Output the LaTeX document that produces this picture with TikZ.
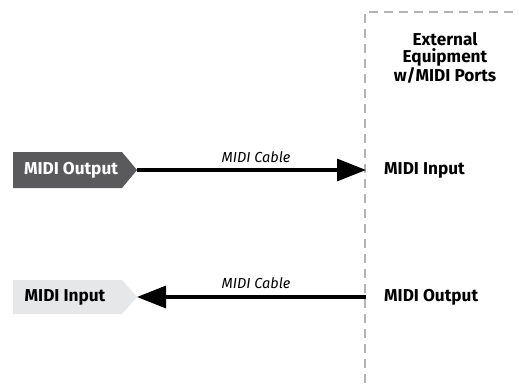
\documentclass[tikz,border=0pt]{standalone}
\usepackage{fontspec}
\setmainfont{Fira Sans}
\usetikzlibrary{arrows.meta}
\definecolor{darkport}{HTML}{5A5A5C}
\definecolor{lightport}{HTML}{E6E7E8}
\definecolor{dashgray}{HTML}{B3B3B3}
\tikzset{
  port/.style={inner sep=0pt, font=\bfseries\fontsize{17.2}{19}\selectfont},
  cable/.style={line width=3.2pt, -{Triangle[length=29pt,width=22pt]}},
  cablelabel/.style={font=\itshape\fontsize{14.5}{16}\selectfont, inner sep=0pt},
  boundary/.style={dashgray, line width=1.5pt, dash pattern=on 9pt off 6pt},
  equiptext/.style={font=\bfseries\fontsize{17.2}{16.5}\selectfont, align=center, inner sep=0pt},
}
\begin{document}
\begin{tikzpicture}[x=1pt,y=-1pt]
\useasboundingbox (0,0) rectangle (519,383);
% dashed boundary
\coordinate (bl) at (365,383);
\coordinate (tl) at (365,12);
\coordinate (tr) at (519,12);
\draw[boundary] (bl) -- (tl) -- (tr);
\node[equiptext] (equip) at (445,58) {External\\Equipment\\w/MIDI Ports};
% top row
\fill[darkport] (13,152) -- (122,152) -- (137,170) -- (122,188) -- (13,188) -- cycle;
\coordinate (outtip) at (137,170);
\node[port, text=white] (midiout) at (71,170) {MIDI Output};
\coordinate (intip) at (366,170);
\node[port, anchor=west] (midiinR) at (384,170) {MIDI Input};
\draw[cable] (outtip) -- (intip);
\node[cablelabel] (lab1) at (256,157) {MIDI Cable};
% bottom row
\fill[lightport] (13,280) -- (122,280) -- (137,297) -- (122,314) -- (13,314) -- cycle;
\coordinate (intip2) at (137,297);
\node[port] (midiinL) at (65,297) {MIDI Input};
\coordinate (outtail) at (366,297);
\node[port, anchor=west] (midioutR) at (384,297) {MIDI Output};
\draw[cable] (outtail) -- (intip2);
\node[cablelabel] (lab2) at (256,283) {MIDI Cable};
\end{tikzpicture}
\end{document}
